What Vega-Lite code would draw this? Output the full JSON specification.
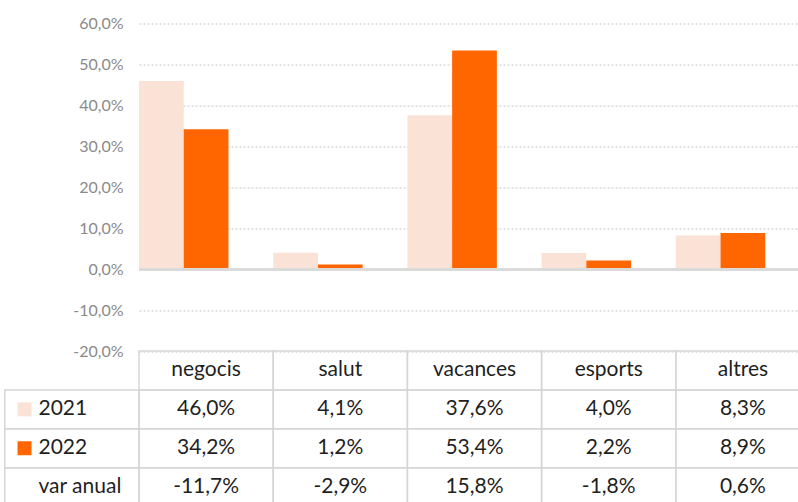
{
  "$schema": "https://vega.github.io/schema/vega-lite/v6.json",
  "width": 659,
  "height": 328,
  "autosize": {"type": "none"},
  "padding": {"left": 139, "top": 23.5, "right": 0, "bottom": 150.5},
  "background": "white",
  "config": {
    "view": {"stroke": null},
    "locale": {"number": {"decimal": ",", "thousands": ".", "grouping": [3], "currency": ["", " €"], "minus": "-", "percent": "%"}},
    "font": "Lato"
  },
  "data": {"values": [
    {"cat": "negocis", "series": "2021", "value": 0.460},
    {"cat": "salut", "series": "2021", "value": 0.041},
    {"cat": "vacances", "series": "2021", "value": 0.376},
    {"cat": "esports", "series": "2021", "value": 0.040},
    {"cat": "altres", "series": "2021", "value": 0.083},
    {"cat": "negocis", "series": "2022", "value": 0.342},
    {"cat": "salut", "series": "2022", "value": 0.012},
    {"cat": "vacances", "series": "2022", "value": 0.534},
    {"cat": "esports", "series": "2022", "value": 0.022},
    {"cat": "altres", "series": "2022", "value": 0.089},
    {"cat": "negocis", "series": "var anual", "value": -0.117},
    {"cat": "salut", "series": "var anual", "value": -0.029},
    {"cat": "vacances", "series": "var anual", "value": 0.158},
    {"cat": "esports", "series": "var anual", "value": -0.018},
    {"cat": "altres", "series": "var anual", "value": 0.006}
  ]},
  "resolve": {"scale": {"y": "independent", "x": "independent"}},
  "layer": [
    {
      "transform": [{"filter": "datum.series !== 'var anual'"}],
      "mark": {"type": "bar"},
      "encoding": {
        "x": {"field": "cat", "type": "nominal", "axis": null,
              "scale": {"type": "band", "domain": ["negocis", "salut", "vacances", "esports", "altres"], "range": [0, 671], "paddingInner": 0, "paddingOuter": 0}},
        "xOffset": {"field": "series", "type": "nominal", "scale": {"domain": ["2021", "2022", "var anual"], "paddingInner": 0, "paddingOuter": 0}},
        "y": {"field": "value", "type": "quantitative",
              "scale": {"domain": [-0.2, 0.6], "nice": false, "zero": false},
              "axis": {"values": [-0.2, -0.1, 0, 0.1, 0.2, 0.3, 0.4, 0.5, 0.6], "format": ".1%", "title": null,
                       "domain": false, "ticks": false, "grid": true, "gridDash": [2, 2], "gridColor": "#d9d9d9", "gridWidth": 1.5,
                       "labelFont": "Lato", "labelFontSize": 16, "labelColor": "#8a8a8a", "labelPadding": 16}},
        "color": {"field": "series", "type": "nominal", "legend": null,
                  "scale": {"domain": ["2021", "2022"], "range": ["#FAE3D6", "#FF6600"]}}
      }
    },
    {
      "mark": {"type": "rule", "color": "#d9d9d9", "strokeWidth": 1.5},
      "encoding": {"y": {"datum": 0, "type": "quantitative", "scale": {"domain": [-0.2, 0.6], "nice": false, "zero": false}, "axis": null}}
    },
    {
      "mark": {"type": "rect", "fill": "white", "fillOpacity": 0, "stroke": "#d6d6d6", "strokeWidth": 1.5},
      "encoding": {
        "x": {"field": "cat", "type": "nominal", "axis": null,
              "scale": {"type": "band", "domain": ["lbl", "negocis", "salut", "vacances", "esports", "altres"], "range": [-134.2, 671], "paddingInner": 0, "paddingOuter": 0}},
        "y": {"field": "series", "type": "nominal", "axis": null,
              "scale": {"type": "band", "domain": ["", "2021", "2022", "var anual"], "range": [327.5, 483.1], "paddingInner": 0, "paddingOuter": 0}}
      }
    },
    {
      "transform": [{"filter": "datum.series === '2021'"}],
      "mark": {"type": "rect", "fill": "white", "fillOpacity": 0, "stroke": "#d6d6d6", "strokeWidth": 1.5},
      "encoding": {
        "x": {"field": "cat", "type": "nominal", "axis": null,
              "scale": {"type": "band", "domain": ["lbl", "negocis", "salut", "vacances", "esports", "altres"], "range": [-134.2, 671], "paddingInner": 0, "paddingOuter": 0}},
        "y": {"datum": "", "type": "nominal", "axis": null,
              "scale": {"type": "band", "domain": ["", "2021", "2022", "var anual"], "range": [327.5, 483.1], "paddingInner": 0, "paddingOuter": 0}}
      }
    },
    {
      "transform": [{"filter": "datum.cat === 'negocis'"}],
      "mark": {"type": "rect", "fill": "white", "fillOpacity": 0, "stroke": "#d6d6d6", "strokeWidth": 1.5},
      "encoding": {
        "x": {"datum": "lbl", "type": "nominal", "axis": null,
              "scale": {"type": "band", "domain": ["lbl", "negocis", "salut", "vacances", "esports", "altres"], "range": [-134.2, 671], "paddingInner": 0, "paddingOuter": 0}},
        "y": {"field": "series", "type": "nominal", "axis": null,
              "scale": {"type": "band", "domain": ["", "2021", "2022", "var anual"], "range": [327.5, 483.1], "paddingInner": 0, "paddingOuter": 0}}
      }
    },
    {
      "transform": [{"filter": "datum.series === '2021'"}],
      "mark": {"type": "text", "font": "Lato", "fontSize": 21, "color": "#1f1f1f", "baseline": "middle", "align": "center"},
      "encoding": {
        "x": {"field": "cat", "type": "nominal", "axis": null,
              "scale": {"type": "band", "domain": ["lbl", "negocis", "salut", "vacances", "esports", "altres"], "range": [-134.2, 671], "paddingInner": 0, "paddingOuter": 0}},
        "y": {"datum": "", "type": "nominal", "axis": null,
              "scale": {"type": "band", "domain": ["", "2021", "2022", "var anual"], "range": [327.5, 483.1], "paddingInner": 0, "paddingOuter": 0}},
        "text": {"field": "cat"}
      }
    },
    {
      "mark": {"type": "text", "font": "Lato", "fontSize": 21, "color": "#1f1f1f", "baseline": "middle", "align": "center"},
      "encoding": {
        "x": {"field": "cat", "type": "nominal", "axis": null,
              "scale": {"type": "band", "domain": ["lbl", "negocis", "salut", "vacances", "esports", "altres"], "range": [-134.2, 671], "paddingInner": 0, "paddingOuter": 0}},
        "y": {"field": "series", "type": "nominal", "axis": null,
              "scale": {"type": "band", "domain": ["", "2021", "2022", "var anual"], "range": [327.5, 483.1], "paddingInner": 0, "paddingOuter": 0}},
        "text": {"field": "value", "type": "quantitative", "format": ".1%"}
      }
    },
    {
      "transform": [{"filter": "datum.cat === 'negocis'"}],
      "mark": {"type": "text", "font": "Lato", "fontSize": 21, "color": "#1f1f1f", "baseline": "middle", "align": "left"},
      "encoding": {
        "x": {"datum": "lbl", "type": "nominal", "bandPosition": 0.251, "axis": null,
              "scale": {"type": "band", "domain": ["lbl", "negocis", "salut", "vacances", "esports", "altres"], "range": [-134.2, 671], "paddingInner": 0, "paddingOuter": 0}},
        "y": {"field": "series", "type": "nominal", "axis": null,
              "scale": {"type": "band", "domain": ["", "2021", "2022", "var anual"], "range": [327.5, 483.1], "paddingInner": 0, "paddingOuter": 0}},
        "text": {"field": "series"}
      }
    },
    {
      "transform": [{"filter": "datum.cat === 'negocis' && datum.series !== 'var anual'"}],
      "mark": {"type": "point", "shape": "square", "filled": true, "opacity": 1, "size": 196},
      "encoding": {
        "x": {"datum": "lbl", "type": "nominal", "bandPosition": 0.147, "axis": null,
              "scale": {"type": "band", "domain": ["lbl", "negocis", "salut", "vacances", "esports", "altres"], "range": [-134.2, 671], "paddingInner": 0, "paddingOuter": 0}},
        "y": {"field": "series", "type": "nominal", "axis": null,
              "scale": {"type": "band", "domain": ["", "2021", "2022", "var anual"], "range": [327.5, 483.1], "paddingInner": 0, "paddingOuter": 0}},
        "color": {"field": "series", "type": "nominal", "legend": null}
      }
    }
  ]
}
